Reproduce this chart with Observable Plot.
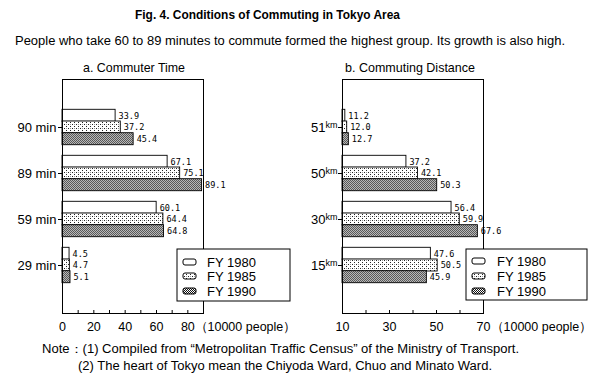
<!DOCTYPE html>
<html><head><meta charset="utf-8">
<script src="https://cdn.jsdelivr.net/npm/d3@7"></script>
<script src="https://cdn.jsdelivr.net/npm/@observablehq/plot@0.6"></script>
<style>
html,body{margin:0;padding:0;background:#fff;}
#root{position:relative;width:600px;height:386px;overflow:hidden;font-family:"Liberation Sans",Arial,sans-serif;color:#000;background:#fff;}
#root > svg.chart{position:absolute;top:60px;}
#overlay{position:absolute;left:0;top:0;z-index:5;pointer-events:none;}
</style></head><body><div id="root"></div>
<script>
// ---- data ----
const years = ["FY 1980", "FY 1985", "FY 1990"];
const timeCats = ["90 min", "89 min", "59 min", "29 min"];
const time1980 = [33.9, 67.1, 60.1, 4.5];
const time1985 = [37.2, 75.1, 64.4, 4.7];
const time1990 = [45.4, 89.1, 64.8, 5.1];
const timeTicks = [0, 10, 20, 30, 40, 50, 60, 70, 80, 90];
const timeTickLabels = [0, 20, 40, 60, 80];
const distCats = ["51km", "50km", "30km", "15km"];
const dist1980 = [11.2, 37.2, 56.4, 47.6];
const dist1985 = [12.0, 42.1, 59.9, 50.5];
const dist1990 = [12.7, 50.3, 67.6, 45.9];
const distTicks = [10, 20, 30, 40, 50, 60, 70];
const distTickLabels = [10, 30, 50, 70];
const unitLabel = "（10000 people）";
const titleText = "Fig. 4. Conditions of Commuting in Tokyo Area";
const subtitleText = "People who take 60 to 89 minutes to commute formed the highest group. Its growth is also high.";
const chartTitles = ["a. Commuter Time", "b. Commuting Distance"];
const notes = ["Note：(1) Compiled from “Metropolitan Traffic Census” of the Ministry of Transport.",
               "(2) The heart of Tokyo mean the Chiyoda Ward, Chuo and Minato Ward."];

// ---- layout / style ----
const fills = ["white", "url(#pat85)", "url(#pat90)"];
const W = 300, H = 290, MT = 19, MB = 37;
const PI = 0.75, PO = 0.875;
const root = document.getElementById("root");

// overlay with texts & patterns
const ov = d3.select(root).append("svg").attr("id", "overlay").attr("width", 600).attr("height", 386);
const defs = ov.append("defs");
const p85 = defs.append("pattern").attr("id", "pat85").attr("patternUnits", "userSpaceOnUse").attr("width", 4).attr("height", 4);
p85.append("rect").attr("width", 4).attr("height", 4).attr("fill", "#fff");
p85.append("rect").attr("x", 0).attr("y", 0).attr("width", 1).attr("height", 1).attr("fill", "#222");
p85.append("rect").attr("x", 2).attr("y", 2).attr("width", 1).attr("height", 1).attr("fill", "#222");
p85.append("rect").attr("x", 2).attr("y", 0).attr("width", 1).attr("height", 1).attr("fill", "#999");
const p90 = defs.append("pattern").attr("id", "pat90").attr("patternUnits", "userSpaceOnUse").attr("width", 2).attr("height", 2);
p90.append("rect").attr("width", 2).attr("height", 2).attr("fill", "#fff");
p90.append("rect").attr("x", 0).attr("y", 0).attr("width", 1).attr("height", 1).attr("fill", "#111");
p90.append("rect").attr("x", 1).attr("y", 1).attr("width", 1).attr("height", 1).attr("fill", "#111");

function addText(t, x, y, size, len, opts = {}) {
  const el = ov.append("text").attr("x", x).attr("y", y).attr("dy", "0.35em")
    .attr("font-size", size).attr("font-family", "Liberation Sans, Arial, sans-serif").text(t);
  if (len) el.attr("textLength", len).attr("lengthAdjust", "spacingAndGlyphs");
  if (opts.bold) el.attr("font-weight", "bold");
  if (opts.anchor) el.attr("text-anchor", opts.anchor);
  return el;
}
addText(titleText, 135, 15, 12.5, 265, {bold: true});
addText(subtitleText, 15, 41, 12.5, 550);
addText(chartTitles[0], 83, 67, 13, 102);
addText(chartTitles[1], 345, 67, 13, 130);
addText(notes[0], 42, 349, 12, 477);
addText(notes[1], 78, 366, 12, 414);

function makeChart(c) {
  const rows = c.cats.flatMap((cat, i) => years.map((yr, j) => ({cat, yr, j, v: c.series[j][i]})));
  const innerH = H - MT - MB;
  const step = innerH / (c.cats.length - PI + 2 * PO);
  const bw = step * (1 - PI);
  const marks = [];
  years.forEach((yr, j) => {
    marks.push(Plot.barX(rows.filter(r => r.j === j), {
      y: "cat", x1: c.domain[0], x2: "v", fill: fills[j], stroke: "black", strokeWidth: 0.9, dy: (j - 1) * bw
    }));
  });
  years.forEach((yr, j) => {
    marks.push(Plot.text(rows.filter(r => r.j === j), {
      y: "cat", x: "v", text: r => r.v.toFixed(1), dx: 3, dy: (j - 1) * bw, textAnchor: "start",
      fontFamily: "DejaVu Sans Mono, monospace", fontSize: 8.5
    }));
  });
  marks.push(Plot.frame({stroke: "black", strokeWidth: 1}));
  marks.push(Plot.axisY({tickSize: 4, tickPadding: c.yPad, fontSize: 13, label: null}));
  marks.push(Plot.axisX({ticks: c.ticks, tickFormat: d => c.tickLabels.includes(d) ? String(d) : "",
    tickSize: -3, tickPadding: 12, fontSize: 12.5, label: null}));
  marks.push(Plot.text([unitLabel], {frameAnchor: "bottom-right", text: d => d, dx: c.unitDx, dy: 13,
    textAnchor: "start", lineAnchor: "middle", fontSize: 12.5}));
  const svg = Plot.plot({
    width: W, height: H, marginTop: MT, marginBottom: MB, marginLeft: c.ml, marginRight: W - c.right,
    x: {domain: c.domain},
    y: {domain: c.cats, paddingInner: PI, paddingOuter: PO, align: 0.5},
    style: {fontFamily: "Liberation Sans, Arial, sans-serif", fontSize: "12px", background: "transparent", overflow: "visible", color: "black"},
    marks
  });
  svg.classList.add("chart");
  svg.style.left = c.left + "px";
  // km superscripts
  if (c.km) {
    d3.select(svg).selectAll('g[aria-label="y-axis tick label"] text').each(function () {
      const t = this.textContent;
      if (t.endsWith("km")) {
        this.textContent = t.replace("km", "");
        d3.select(this).append("tspan").attr("font-size", 9).attr("dy", -4).text("km");
      }
    });
  }
  // legend
  const L = c.legend;
  const g = d3.select(svg).append("g").attr("font-family", "Liberation Sans, Arial, sans-serif").attr("text-anchor", "start");
  g.append("rect").attr("x", L.x).attr("y", L.y).attr("width", L.w).attr("height", L.h)
    .attr("fill", "white").attr("stroke", "black").attr("stroke-width", 1);
  years.forEach((yr, j) => {
    const cy = L.rows[j];
    g.append("rect").attr("x", L.sx).attr("y", cy - 3).attr("width", 13).attr("height", 6).attr("rx", 2)
      .attr("fill", fills[j]).attr("stroke", "black").attr("stroke-width", 1);
    g.append("text").attr("x", L.tx).attr("y", cy).attr("dy", "0.35em").attr("font-size", 13)
      .attr("text-anchor", "start").text(yr);
  });
  root.appendChild(svg);
}

makeChart({cats: timeCats, series: [time1980, time1985, time1990], domain: [0, 90],
  ticks: timeTicks, tickLabels: timeTickLabels, ml: 62, right: 203, left: 0, yPad: 2, unitDx: -9, km: false,
  legend: {x: 177, y: 189, w: 113, h: 52, sx: 183, tx: 207, rows: [202, 216, 231]}});
makeChart({cats: distCats, series: [dist1980, dist1985, dist1990], domain: [10, 70],
  ticks: distTicks, tickLabels: distTickLabels, ml: 42, right: 183, left: 300, yPad: 1, unitDx: 7, km: true,
  legend: {x: 166, y: 189, w: 121, h: 51, sx: 172, tx: 197, rows: [201, 216, 231]}});
</script></body></html>
